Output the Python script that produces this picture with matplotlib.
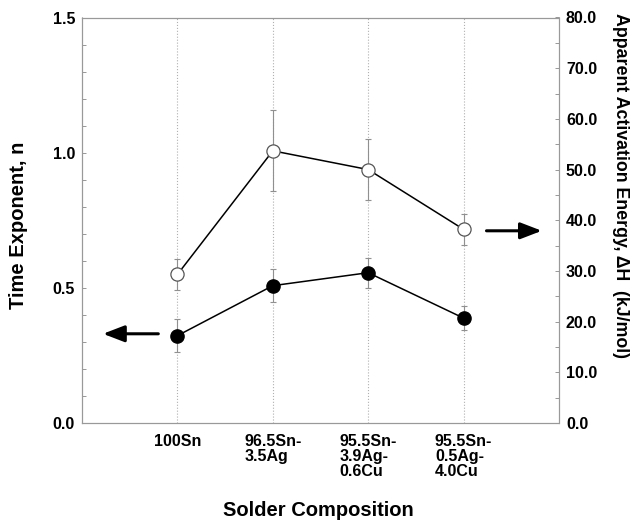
import matplotlib
matplotlib.use("Agg")
import matplotlib.pyplot as plt
from matplotlib.ticker import MultipleLocator, FormatStrFormatter

plt.rcParams['font.family'] = ['Liberation Sans', 'DejaVu Sans']
plt.rcParams['font.weight'] = 'bold'

# Solder compositions
compositions = ["100Sn", "96.5Sn-\n3.5Ag", "95.5Sn-\n3.9Ag-\n0.6Cu", "95.5Sn-\n0.5Ag-\n4.0Cu"]

# Time exponent n (left axis)
n_values = [0.323, 0.508, 0.556, 0.388]
n_errors = [0.06, 0.06, 0.055, 0.045]

# Apparent activation energy dH, kJ/mol (right axis)
dH_values = [29.3, 53.7, 50.0, 38.2]
dH_errors = [3.0, 8.0, 6.0, 3.0]

fig = plt.figure(figsize=(6.37, 5.21), dpi=100)
ax = fig.add_axes([82 / 637, 1 - 423 / 521, (559 - 82) / 637, (423 - 17.5) / 521])
ax2 = ax.twinx()

x = list(range(1, len(compositions) + 1))

ax.set_xlim(0, 5)
ax.set_ylim(0, 1.5)
ax2.set_ylim(0, 80)

for xi in x:
    ax.axvline(xi, color='#b0b0b0', lw=0.8, ls=':', zorder=0)

ax.errorbar(x, n_values, yerr=n_errors, fmt='none', ecolor='#909090',
            elinewidth=0.8, capsize=2.5, capthick=0.8, zorder=2)
ax.plot(x, n_values, color='black', lw=1.1, marker='o', ms=9.5,
        mfc='black', mec='black', zorder=3)

ax2.errorbar(x, dH_values, yerr=dH_errors, fmt='none', ecolor='#909090',
             elinewidth=0.8, capsize=2.5, capthick=0.8, zorder=2)
ax2.plot(x, dH_values, color='black', lw=1.1, marker='o', ms=9.5,
         mfc='white', mec='#555555', mew=0.9, zorder=3)

ax.set_xticks(x)
ax.set_xticklabels(compositions, ha='center', multialignment='left',
                   fontsize=11.5, fontweight='bold', linespacing=1.0)

ax.yaxis.set_major_locator(MultipleLocator(0.5))
ax.yaxis.set_minor_locator(MultipleLocator(0.1))
ax.yaxis.set_major_formatter(FormatStrFormatter('%.1f'))
ax2.yaxis.set_major_locator(MultipleLocator(10))
ax2.yaxis.set_minor_locator(MultipleLocator(5))
ax2.yaxis.set_major_formatter(FormatStrFormatter('%.1f'))

ax.tick_params(axis='x', length=0, pad=8)
ax.tick_params(axis='y', which='both', direction='in', length=3, width=0.6,
               color='#888888', labelsize=11.5, pad=5)
ax2.tick_params(axis='y', which='both', direction='in', length=3, width=0.6,
                color='#888888', labelsize=11.5, pad=5)
for lbl in ax.get_yticklabels() + ax2.get_yticklabels():
    lbl.set_fontweight('bold')

for a in (ax, ax2):
    for s in a.spines.values():
        s.set_color('#999999')
        s.set_linewidth(0.8)
        s.set_linestyle((0, (1, 1)))

fig.text(19 / 637, 1 - 225 / 521, "Time Exponent, n", rotation=90,
         fontsize=14.5, fontweight='bold', ha='center', va='center')
fig.text(621 / 637, 1 - 186 / 521, "Apparent Activation Energy, \u0394H  (kJ/mol)",
         rotation=-90, fontsize=12.8, fontweight='bold', ha='center', va='center')
fig.text(318 / 637, 1 - 511 / 521, "Solder Composition",
         fontsize=14.5, fontweight='bold', ha='center', va='center')

# Arrows pointing to the axis each series belongs to
ax.annotate("", xy=(0.22, 0.33), xytext=(0.80, 0.33),
            arrowprops=dict(arrowstyle='-|>,head_length=1.3,head_width=0.5',
                            color='black', lw=2.2, shrinkA=0, shrinkB=0))
ax.annotate("", xy=(4.82, 0.711), xytext=(4.24, 0.711),
            arrowprops=dict(arrowstyle='-|>,head_length=1.3,head_width=0.5',
                            color='black', lw=2.2, shrinkA=0, shrinkB=0))

fig.savefig("out.png", dpi=100)
